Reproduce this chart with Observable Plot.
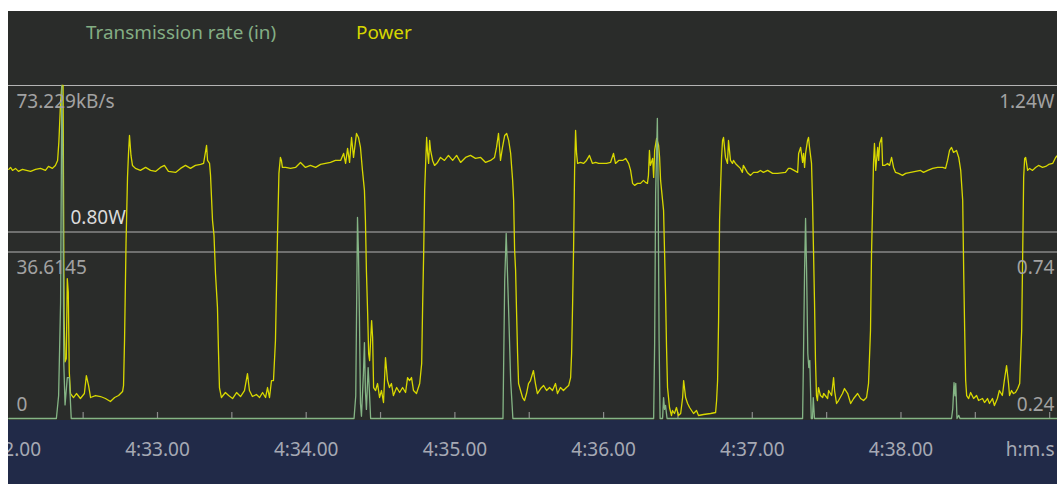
<!DOCTYPE html>
<html>
<head>
<meta charset="utf-8">
<script src="https://cdn.jsdelivr.net/npm/d3@7"></script>
<script src="https://cdn.jsdelivr.net/npm/@observablehq/plot@0.6"></script>
<style>
  html, body { margin: 0; padding: 0; background: #ffffff; }
  #wrap { position: absolute; left: 8px; top: 11px; width: 1049px; height: 473px; overflow: hidden; background: #2a2c2a; font-family: "Noto Sans", sans-serif; }
  #legend { position: relative; height: 64px; }
  #legend span { position: absolute; top: 9px; font-size: 18.9px; line-height: 24px; white-space: nowrap; }
  #chart svg { display: block; }
</style>
</head>
<body>
<div id="wrap">
  <div id="legend">
    <span id="lg-rate" style="left:78px;color:#84ae84">Transmission rate (in)</span>
    <span id="lg-power" style="left:348px;color:#d6d600">Power</span>
  </div>
  <div id="chart"></div>
</div>
<script>
// ---- Data (seconds after 4:32:00) ----
const powerTime = [0,0.7,1.5,2.7,3.9,5.5,7.1,8.8,10.8,12.8,14.8,16.0,17.6,18.8,19.7,20.2,20.9,21.4,21.9,22.3,22.7,23.2,23.6,24.0,24.4,24.9,26.1,27.3,28.9,30.5,31.3,32.2,33.0,35.0,37.0,39.0,41.0,42.7,44.3,45.9,46.3,46.7,47.3,47.9,48.3,48.7,49.3,49.9,51.1,53.1,55.2,57.2,59.2,61.2,62.8,64.4,67.3,69.3,71.3,73.3,75.3,77.4,78.6,79.8,80.2,81.0,81.4,82.2,82.8,83.4,84.2,84.6,85.0,85.8,87.4,88.7,90.3,91.9,93.5,95.1,96.3,97.1,98.3,99.9,101.2,102.4,103.6,104.4,105.2,106.0,106.8,107.6,108.4,109.0,109.6,110.0,110.4,111.7,113.7,115.7,117.7,119.7,121.7,123.8,125.8,127.8,129.8,131.8,133.9,135.1,135.9,136.7,137.5,138.3,139.1,140.3,141.1,141.9,142.7,143.5,143.9,144.3,144.8,145.2,145.6,146.4,146.8,147.2,148.0,148.8,149.6,150.4,151.2,152.0,152.8,153.6,154.4,155.2,156.5,157.7,158.9,160.1,160.9,161.7,162.5,163.3,164.5,165.8,166.6,167.0,167.4,167.8,168.2,168.6,169.0,169.4,169.8,170.2,171.0,171.8,173.0,174.2,175.8,177.4,179.1,180.7,182.3,184.3,186.3,188.3,190.4,192.4,194.4,196.0,196.8,197.6,198.4,199.2,200.1,200.9,201.7,202.5,203.3,203.7,204.1,204.5,204.9,205.3,205.7,206.5,207.3,208.1,208.9,209.7,210.5,211.7,212.5,213.3,214.6,215.8,217.0,218.2,219.4,220.6,221.4,222.6,223.8,225.0,225.9,226.7,227.1,227.5,227.9,228.3,228.7,229.1,229.5,230.7,231.9,233.1,234.3,235.5,236.8,238.0,239.6,241.2,242.8,244.0,244.8,246.1,247.7,248.9,250.1,250.9,251.7,252.5,253.7,254.9,256.1,256.9,257.7,258.1,258.5,258.9,259.8,260.2,260.6,261.4,262.2,262.6,263.0,263.4,264.2,265.0,265.4,265.8,266.6,267.4,267.8,268.6,269.4,270.2,271.1,271.9,272.3,273.1,273.9,274.7,276.3,277.5,278.3,280.3,283.2,285.2,285.6,286.0,286.4,286.8,287.2,287.6,288.0,288.4,289.2,290.0,290.4,291.2,292.0,292.4,293.2,294.0,295.2,296.0,296.4,298.0,299.3,300.5,302.1,303.3,304.5,306.2,308.2,310.2,313.4,314.6,315.4,318.3,318.7,319.5,320.3,320.7,321.1,321.5,322.3,322.7,323.1,323.9,324.3,324.7,325.1,325.5,325.9,326.3,326.7,327.5,328.4,328.8,330.4,330.8,332.0,332.8,333.2,334.0,334.8,336.4,337.2,338.5,339.7,340.9,342.5,343.7,344.9,346.1,346.9,347.7,348.1,348.5,348.9,349.3,349.8,350.6,351.0,351.4,352.2,352.6,353.4,354.6,355.4,356.2,357.0,357.8,359.0,360.6,361.9,363.9,365.9,367.9,369.1,370.8,372.8,374.8,376.8,378.0,378.8,379.6,380.4,381.2,382.4,383.3,384.1,384.9,385.3,385.7,386.1,386.5,387.3,388.1,389.3,390.5,391.3,392.9,393.7,394.9,395.7,396.9,397.7,398.9,399.7,400.9,401.7,402.6,403.4,403.8,404.6,405.4,406.2,407.1,407.9,408.7,409.1,409.5,409.9,410.3,411.1,411.9,413.1,414.3,415.5,417.1,418.4,419.6,421.2,422.4,423.2];
const powerWatts = [0.988,0.994,0.985,0.991,0.982,0.988,0.985,0.982,0.988,0.991,0.985,0.997,0.991,1.0,1.015,1.07,1.19,1.24,1.24,0.55,0.41,0.42,0.66,0.62,0.38,0.315,0.303,0.315,0.300,0.315,0.369,0.339,0.303,0.309,0.306,0.300,0.291,0.303,0.309,0.321,0.339,0.474,0.765,0.964,1.036,1.09,1.03,1.0,0.991,0.985,0.994,0.985,0.982,0.994,1.0,0.982,0.979,0.991,1.0,0.991,1.0,1.003,1.006,1.06,1.015,1.006,0.97,0.835,0.79,0.675,0.573,0.444,0.333,0.303,0.318,0.309,0.300,0.318,0.306,0.324,0.375,0.324,0.306,0.312,0.303,0.318,0.303,0.333,0.303,0.354,0.354,0.474,0.783,0.976,1.024,1.015,0.994,0.994,0.991,0.994,1.009,0.994,1.0,0.994,1.003,1.006,1.009,1.015,1.015,1.036,1.006,1.051,1.009,1.084,1.024,1.096,1.084,1.054,0.985,0.925,0.835,0.684,0.555,0.435,0.414,0.534,0.483,0.333,0.324,0.345,0.303,0.324,0.288,0.423,0.354,0.333,0.345,0.309,0.333,0.318,0.333,0.318,0.363,0.354,0.363,0.324,0.315,0.345,0.405,0.585,0.735,0.925,1.006,1.084,1.036,1.006,1.075,1.045,1.015,1.0,1.009,1.024,1.015,1.030,1.015,1.030,1.009,1.024,1.030,1.021,1.024,1.009,1.015,1.024,1.054,1.096,1.015,1.054,1.090,1.096,1.075,1.036,0.955,0.895,0.745,0.684,0.555,0.435,0.345,0.324,0.303,0.294,0.315,0.345,0.354,0.384,0.345,0.315,0.330,0.339,0.324,0.333,0.324,0.345,0.315,0.333,0.324,0.333,0.339,0.363,0.435,0.585,0.754,0.985,1.105,1.036,1.006,1.009,1.006,1.015,1.030,1.006,1.009,1.006,1.006,1.006,1.009,1.036,1.006,1.015,1.015,1.021,1.006,0.985,0.946,0.940,0.946,0.946,0.955,0.949,0.946,0.970,1.045,1.0,1.021,0.964,1.045,1.081,1.060,1.024,0.955,0.925,0.865,0.615,0.453,0.333,0.273,0.249,0.264,0.255,0.273,0.249,0.255,0.303,0.354,0.303,0.285,0.273,0.255,0.264,0.249,0.252,0.255,0.258,0.294,0.354,0.534,0.835,0.934,1.024,1.075,1.084,1.024,1.006,1.075,1.015,1.006,1.015,1.006,1.0,0.991,0.979,1.0,0.979,0.970,0.979,0.979,0.985,0.979,0.985,0.976,0.976,0.979,0.991,0.991,0.979,1.036,1.054,1.009,1.036,0.994,1.036,1.075,1.084,1.054,1.006,0.895,0.745,0.594,0.414,0.309,0.294,0.333,0.309,0.303,0.315,0.300,0.324,0.309,0.363,0.324,0.285,0.294,0.315,0.330,0.315,0.285,0.300,0.315,0.300,0.294,0.303,0.345,0.504,0.729,0.865,1.006,1.066,0.985,1.054,1.015,1.066,1.084,1.0,1.0,1.006,1.0,1.024,0.994,0.979,0.976,0.970,0.976,0.979,0.982,0.985,0.979,0.985,0.991,0.994,0.994,0.991,1.015,1.045,1.054,1.039,1.045,1.024,0.985,0.895,0.684,0.504,0.354,0.309,0.300,0.318,0.300,0.309,0.294,0.300,0.288,0.300,0.285,0.300,0.279,0.300,0.324,0.309,0.354,0.399,0.345,0.309,0.324,0.315,0.318,0.330,0.345,0.504,0.729,0.964,1.021,1.024,0.985,0.991,0.985,0.994,1.0,0.994,0.997,1.003,1.006,1.024,1.030];

const rateTime = [0,19.2,20.1,20.9,21.4,21.8,22.2,22.7,23.6,24.4,25.2,139.3,140.0,140.7,141.1,141.5,141.9,142.3,143.1,143.5,143.9,144.3,145.0,145.5,146.0,199.4,200.1,200.7,201.1,201.8,202.5,203.4,260.2,260.6,261.0,261.7,262.0,262.4,262.8,263.8,264.2,264.6,265.0,265.6,320.3,320.6,321.1,321.5,321.9,322.4,322.8,323.2,323.8,324.3,324.6,325.1,380.4,380.9,381.4,381.8,382.1,382.6,383.3,383.8,428.4];
const rateKBs = [0,0,5,25.5,73.229,57,12,3,9,9,0,0,5,44.2,36.3,21.6,3.3,0.5,10,16.7,6,2,11.2,6,0,0,30.3,40.7,34.1,21.6,8.4,0,0,16.5,49.5,66.0,50.8,17.2,0,0,4.6,2.0,2.9,0,0,11.2,32.5,44.0,33.0,14.3,11.2,12.8,0,0,4.6,0,0,2.2,7.9,5,7.7,0,0.7,0,0];

const tickSeconds = [0, 60, 120, 180, 240, 300, 360];
const tickLabels = ["4:32.00", "4:33.00", "4:34.00", "4:35.00", "4:36.00", "4:37.00", "4:38.00"];
const minorTickSeconds = [30, 60, 90, 120, 150, 180, 210, 240, 270, 300, 330, 360, 390, 420];
const unitLabel = ["h:m.s"];

const rateMax = 73.229;
const powerMin = 0.24, powerMax = 1.24;
const leftLabelsUpper = ["73.229kB/s", "36.6145"];
const leftValuesUpper = [73.229, 36.6145];
const leftLabelsLower = ["0"];
const leftValuesLower = [0];
const rightLabelsUpper = ["1.24W", "0.74"];
const rightValuesUpper = [1.24, 0.74];
const rightLabelsLower = ["0.24"];
const rightValuesLower = [0.24];
const markerWatts = [0.80];
const markerLabels = ["0.80W"];

// ---- Build ----
const toPowerAxis = r => powerMin + (r / rateMax) * (powerMax - powerMin);
const powerSeries = powerTime.map((t, i) => ({t, w: powerWatts[i]}));
const rateSeries = rateTime.map((t, i) => ({t, r: rateKBs[i]}));

const labelGray = "#a2a2a2";
const gridGray = "#b4b4b4";

const chart = Plot.plot({
  width: 1062,
  height: 409,
  marginTop: 10,
  marginBottom: 66,
  marginLeft: 0,
  marginRight: 0,
  x: {domain: [-0.12, 428.4], axis: null},
  y: {domain: [powerMin, powerMax], axis: null},
  style: {
    background: "linear-gradient(to bottom, #2a2c2a 0px, #2a2c2a 345px, #212a48 345px, #212a48 100%)",
    maxWidth: "none",
    fontFamily: "'Noto Sans', sans-serif",
    fontSize: "19px",
    overflow: "hidden"
  },
  marks: [
    Plot.ruleY([powerMax, (powerMin + powerMax) / 2], {stroke: gridGray, strokeWidth: 1.2}),
    Plot.ruleY(markerWatts, {stroke: gridGray, strokeWidth: 1.2}),
    Plot.tickX(minorTickSeconds, {x: d => d, insetTop: 327, stroke: "#8c8c8c", strokeWidth: 1.2}),
    Plot.line(powerSeries, {x: "t", y: "w", stroke: "#d8d800", strokeWidth: 1.3}),
    Plot.line(rateSeries, {x: "t", y: d => toPowerAxis(d.r), stroke: "#85b585", strokeWidth: 1.3}),
    Plot.text(leftLabelsUpper, {y: (d, i) => toPowerAxis(leftValuesUpper[i]), text: d => d, frameAnchor: "left", textAnchor: "start", dx: 8, dy: 16, lineAnchor: "middle", fill: labelGray}),
    Plot.text(leftLabelsLower, {y: (d, i) => toPowerAxis(leftValuesLower[i]), text: d => d, frameAnchor: "left", textAnchor: "start", dx: 8, dy: -14, lineAnchor: "middle", fill: labelGray}),
    Plot.text(rightLabelsUpper, {y: (d, i) => rightValuesUpper[i], text: d => d, frameAnchor: "right", textAnchor: "end", dx: -16, dy: 16, lineAnchor: "middle", fill: labelGray}),
    Plot.text(rightLabelsLower, {y: (d, i) => rightValuesLower[i], text: d => d, frameAnchor: "right", textAnchor: "end", dx: -16, dy: -14, lineAnchor: "middle", fill: labelGray}),
    Plot.text(markerLabels, {y: (d, i) => markerWatts[i], text: d => d, frameAnchor: "left", textAnchor: "start", dx: 62, dy: -14, lineAnchor: "middle", fill: "#dadada"}),
    Plot.text(tickSeconds, {x: d => d, text: (d, i) => tickLabels[i], frameAnchor: "bottom", dy: 31, lineAnchor: "middle", fill: "#a6a9b4"}),
    Plot.text(unitLabel, {text: d => d, frameAnchor: "bottom-right", textAnchor: "end", dx: -16, dy: 31, lineAnchor: "middle", fill: "#a6a9b4"})
  ]
});
document.getElementById("chart").appendChild(chart);
</script>
</body>
</html>
